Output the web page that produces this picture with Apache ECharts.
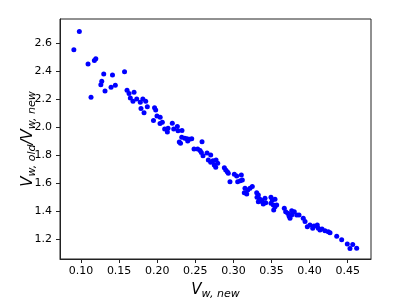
<!DOCTYPE html>
<html>
<head>
<meta charset="utf-8">
<script src="https://cdn.jsdelivr.net/npm/echarts@6/dist/echarts.min.js"></script>
<style>
html,body{margin:0;padding:0;background:#fff;}
#chart{width:399px;height:299px;}
</style>
</head>
<body>
<div id="chart"></div>
<script>
// V_w,new values
const vwNew = [
0.0978,0.0906,0.1092,0.1175,0.1194,0.1298,0.1413,0.1571,0.1272,0.1260,
0.1315,0.1394,0.1450,0.1131,0.1604,0.1630,0.1696,0.1647,0.1682,0.1731,
0.1778,0.1811,0.1849,0.1787,0.1870,0.1827,0.1965,0.1980,0.1997,0.2039,
0.1951,0.2037,0.2067,0.2198,0.2264,0.2098,0.2142,0.2133,0.2217,0.2273,
0.2325,0.2290,0.2306,0.2322,0.2361,0.2391,0.2421,0.2453,0.2400,0.2588,
0.2483,0.2531,0.2562,0.2579,0.2601,0.2654,0.2702,0.2671,0.2702,0.2732,
0.2772,0.2794,0.2749,0.2768,0.2881,0.2899,0.2920,0.2933,0.2955,0.3012,
0.3043,0.3104,0.3056,0.3091,0.3117,0.3152,0.3188,0.3218,0.3248,0.3143,
0.3175,0.3306,0.3327,0.3310,0.3340,0.3362,0.3327,0.3379,0.3415,0.3424,
0.3392,0.3493,0.3511,0.3546,0.3493,0.3524,0.3546,0.3529,0.3568,0.3668,
0.3686,0.3713,0.3730,0.3765,0.3799,0.3765,0.3831,0.3861,0.3917,0.3743,
0.3940,0.4005,0.3970,0.4041,0.4101,0.4114,0.4136,0.4202,0.4245,0.4058,
0.4163,0.4268,0.4356,0.4421,0.4495,0.4566,0.4530,0.4618
];
// V_w,old / V_w,new ratios
const ratio = [
2.682,2.552,2.449,2.475,2.488,2.379,2.371,2.395,2.326,2.302,
2.257,2.284,2.298,2.212,2.262,2.239,2.248,2.206,2.184,2.200,
2.177,2.200,2.184,2.131,2.145,2.102,2.138,2.121,2.079,2.070,
2.046,2.024,2.034,2.026,2.004,1.986,1.991,1.964,1.986,1.973,
1.975,1.893,1.884,1.927,1.919,1.916,1.912,1.916,1.900,1.895,
1.843,1.843,1.831,1.818,1.795,1.814,1.800,1.764,1.748,1.759,
1.764,1.741,1.729,1.712,1.709,1.693,1.681,1.669,1.609,1.662,
1.650,1.657,1.609,1.616,1.621,1.562,1.550,1.562,1.574,1.531,
1.521,1.531,1.514,1.498,1.488,1.479,1.466,1.466,1.491,1.459,
1.450,1.498,1.479,1.484,1.455,1.443,1.431,1.407,1.443,1.419,
1.395,1.384,1.364,1.402,1.395,1.371,1.371,1.371,1.348,1.348,
1.324,1.300,1.288,1.276,1.300,1.276,1.264,1.259,1.252,1.293,
1.271,1.245,1.219,1.195,1.164,1.161,1.132,1.134
];
const xTicks = [0.10,0.15,0.20,0.25,0.30,0.35,0.40,0.45];
const yTicks = [1.2,1.4,1.6,1.8,2.0,2.2,2.4,2.6];

const points = vwNew.map((x, i) => [x, ratio[i]]);
const FONT = 'DejaVu Sans';

const chart = echarts.init(document.getElementById('chart'), null, {renderer: 'canvas'});
chart.setOption({
  animation: false,
  backgroundColor: '#fff',
  grid: {left: 60, right: 28, top: 19, bottom: 40, containLabel: false, outerBoundsMode: 'none',
         show: true, borderColor: '#222', borderWidth: 1, backgroundColor: 'transparent'},
  xAxis: {
    type: 'value', min: 0.0724, max: 0.4806,
    splitLine: {show: false},
    axisLine: {show: true, onZero: false, lineStyle: {color: '#222', width: 1}},
    axisTick: {show: true, length: 4, customValues: xTicks, lineStyle: {color: '#222'}},
    axisLabel: {customValues: xTicks, formatter: v => v.toFixed(2), color: '#000',
                fontFamily: FONT, fontSize: 11, margin: 7},
    name: '{v|V}{s|w, new}',
    nameLocation: 'middle', nameGap: 21, nameMoveOverlap: false,
    nameTextStyle: {
      rich: {
        v: {fontFamily: FONT, fontSize: 15, fontStyle: 'italic', color: '#000', lineHeight: 20, verticalAlign: 'middle'},
        s: {fontFamily: FONT, fontSize: 11, fontStyle: 'italic', color: '#000', lineHeight: 10, verticalAlign: 'bottom'}
      }
    }
  },
  yAxis: {
    type: 'value', min: 1.057, max: 2.771,
    splitLine: {show: false},
    axisLine: {show: true, onZero: false, lineStyle: {color: '#222', width: 1}},
    axisTick: {show: true, length: 4, customValues: yTicks, lineStyle: {color: '#222'}},
    axisLabel: {customValues: yTicks, formatter: v => v.toFixed(1), color: '#000',
                fontFamily: FONT, fontSize: 11, margin: 8},
    name: '{v|V}{s|w, old}{v|/V}{s|w, new}',
    nameLocation: 'middle', nameGap: 22, nameRotate: 90, nameMoveOverlap: false,
    nameTextStyle: {
      rich: {
        v: {fontFamily: FONT, fontSize: 15, fontStyle: 'italic', color: '#000', lineHeight: 20, verticalAlign: 'middle'},
        s: {fontFamily: FONT, fontSize: 11, fontStyle: 'italic', color: '#000', lineHeight: 10, verticalAlign: 'bottom'}
      }
    }
  },
  series: [{
    type: 'scatter',
    data: points,
    symbol: 'circle',
    symbolSize: 5,
    itemStyle: {color: '#0000ff', opacity: 1},
    emphasis: {disabled: true}
  }]
});
</script>
</body>
</html>
